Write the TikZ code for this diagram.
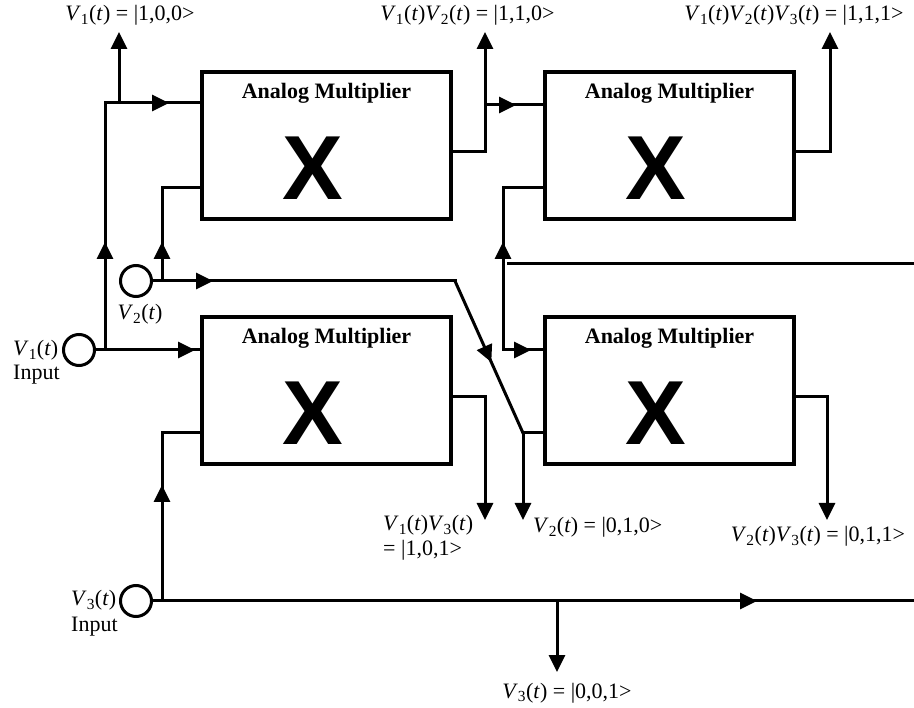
\documentclass[tikz,border=0pt]{standalone}
\usepackage{fontspec}
\setmainfont{Liberation Serif}
\newfontfamily\xfont{Liberation Sans}
\usetikzlibrary{arrows.meta,decorations.markings,calc}
\newcommand{\Vt}[1]{\textit{V}\textsubscript{#1}(\textit{t})}
\begin{document}
\begin{tikzpicture}[x=1pt,y=-1pt,
  wire/.style={line width=3pt,line cap=rect},
  endarrow/.style={line width=3pt,-{Triangle[length=17pt,width=16pt]}},
  midarrow/.style={postaction={decorate},decoration={markings,mark=at position #1 with {\arrow{Triangle[length=17pt,width=16pt]}}}},
  mbox/.style={draw,line width=4pt,minimum width=249pt,minimum height=147pt,inner sep=0pt},
  port/.style={circle,draw,line width=3pt,minimum size=31pt,inner sep=0pt},
  lbl/.style={font=\fontsize{22}{26}\selectfont,inner sep=0pt},
  ttl/.style={font=\fontsize{22}{26}\selectfont\bfseries,inner sep=0pt,anchor=base},
  xmark/.style={font=\xfont\bfseries\fontsize{91}{100}\selectfont,inner sep=0pt,anchor=base}
]
\useasboundingbox (0,0) rectangle (914,708);
\fill[white] (0,0) rectangle (914,708);

% boxes
\node[mbox] (A) at (326.5,145.5) {};
\node[mbox] (B) at (669.5,145.5) {};
\node[mbox] (C) at (326.5,390.5) {};
\node[mbox] (D) at (669.5,390.5) {};
\foreach \b in {A,B,C,D}{
  \node[ttl] (ttl\b) at ($(\b.north)+(0,29)$) {Analog Multiplier};
  \node[xmark] (x\b) at ($(\b.center)+(-13.5,54.5)$) {X};
}

% input ports
\node[port] (v1) at (79,350) {};
\node[port] (v2) at (136,281) {};
\node[port] (v3) at (136,601) {};

% V1 wiring
\draw[wire,midarrow=99pt] (v1.east) -- (C.west |- v1.east);
\coordinate (j1) at (105,350);
\coordinate (j2) at (105,103);
\coordinate (j3) at (119,103);
\coordinate (o1) at (119,32);
\draw[wire,midarrow=108pt] (j1) -- (j2);
\draw[wire,midarrow=64pt] (j2) -- (A.west |- j2);
\draw[endarrow] (j3) -- (o1);

% V2 wiring
\coordinate (k1) at (455,281);
\coordinate (k2) at (523,433);
\coordinate (k3) at (162,281);
\coordinate (k4) at (162,188);
\coordinate (o6) at (523,520);
\draw[wire,midarrow=60pt] (v2.east) -- (k1);
\draw[wire,midarrow=89pt] (k1) -- (k2);
\draw[wire] (k2) -- (D.west |- k2);
\draw[endarrow] (k2) -- (o6);
\draw[wire,midarrow=39pt] (k3) -- (k4);
\draw[wire] (k4) -- (A.west |- k4);

% box A output
\coordinate (m1) at (485,152);
\coordinate (m2) at (485,105);
\coordinate (o2) at (485,32);
\draw[wire] (A.east |- m1) -- (m1);
\draw[endarrow] (m1) -- (o2);
\draw[wire,midarrow=31pt] (m2) -- (B.west |- m2);

% box B output
\coordinate (m3) at (830,152);
\coordinate (o3) at (830,32);
\draw[wire] (B.east |- m3) -- (m3);
\draw[endarrow] (m3) -- (o3);

% feedback to B and D
\coordinate (f1) at (503,350);
\coordinate (f2) at (503,188);
\coordinate (f3) at (508,264);
\coordinate (f4) at (914,264);
\draw[wire,midarrow=108pt] (f1) -- (f2);
\draw[wire] (f2) -- (B.west |- f2);
\draw[wire,midarrow=28pt] (f1) -- (D.west |- f1);
\draw[wire] (f3) -- (f4);

% V3 wiring
\coordinate (n1) at (162,433);
\coordinate (n2) at (162,601);
\coordinate (p1) at (914,601);
\coordinate (p2) at (557,601);
\coordinate (o7) at (557,672);
\draw[wire] (C.west |- n1) -- (n1);
\draw[wire,midarrow=116pt] (n2) -- (n1);
\draw[wire,midarrow=604pt] (v3.east) -- (p1);
\draw[endarrow] (p2) -- (o7);

% box C and D outputs
\coordinate (q1) at (485,397);
\coordinate (o4) at (485,520);
\coordinate (q2) at (827,397);
\coordinate (o5) at (827,520);
\draw[wire] (C.east |- q1) -- (q1);
\draw[endarrow] (q1) -- (o4);
\draw[wire] (D.east |- q2) -- (q2);
\draw[endarrow] (q2) -- (o5);

% labels
\node[lbl,anchor=base] (t1) at (130,21) {\Vt{1} = |1,0,0>};
\node[lbl,anchor=base] (t2) at (467.5,21) {\Vt{1}\Vt{2} = |1,1,0>};
\node[lbl,anchor=base] (t3) at (794,21) {\Vt{1}\Vt{2}\Vt{3} = |1,1,1>};
\node[lbl,anchor=base] (lv2) at (140,320) {\Vt{2}};
\node[lbl,anchor=base west] (lv1) at (13,356) {\Vt{1}};
\node[lbl,anchor=base west] (lv1i) at (13,380) {Input};
\node[lbl,anchor=base west] (lv3) at (71,606) {\Vt{3}};
\node[lbl,anchor=base west] (lv3i) at (71,631) {Input};
\node[lbl,anchor=base west] (b1) at (383,531) {\Vt{1}\Vt{3}};
\node[lbl,anchor=base west] (b1b) at (383,556) {= |1,0,1>};
\node[lbl,anchor=base west] (b2) at (533,533) {\Vt{2} = |0,1,0>};
\node[lbl,anchor=base] (b3) at (818,542) {\Vt{2}\Vt{3} = |0,1,1>};
\node[lbl,anchor=base] (b4) at (567,698) {\Vt{3} = |0,0,1>};
\end{tikzpicture}
\end{document}
